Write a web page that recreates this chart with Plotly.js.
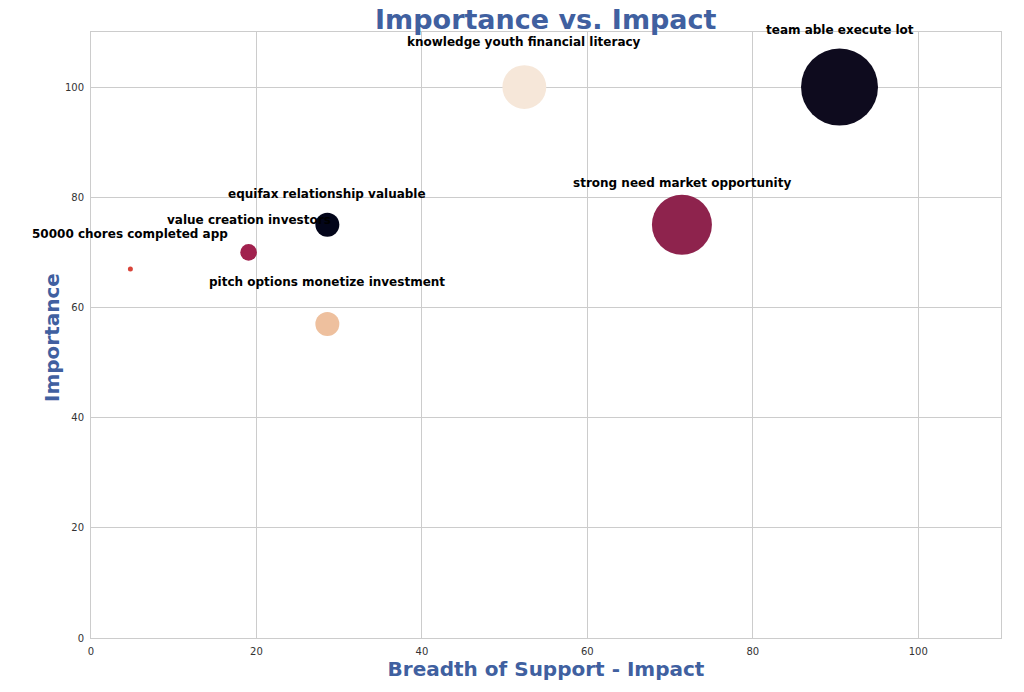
<!DOCTYPE html>
<html>
<head>
<meta charset="utf-8">
<script src="https://cdn.plot.ly/plotly-3.0.1.min.js"></script>
<style>html,body{margin:0;padding:0;background:#fff;}#chart{width:1024px;height:692px;}</style>
</head>
<body>
<div id="chart"></div>
<script>
const labels = ["50000 chores completed app", "value creation investors", "equifax relationship valuable", "pitch options monetize investment", "knowledge youth financial literacy", "strong need market opportunity", "team able execute lot"];
const impact = [4.76, 19.05, 28.57, 28.57, 52.38, 71.43, 90.48];
const importance = [67, 70, 75, 57, 100, 75, 100];
const weight = [1, 11, 23, 23, 77, 144, 237];
const colors = ["#d9443a", "#a1214e", "#03051a", "#eec09e", "#f6e7d9", "#8e234d", "#0e0b1e"];
const labelShift = [35, 32, 31, 42, 45, 42, 57];
const xTicks = [0, 20, 40, 60, 80, 100];
const yTicks = [0, 20, 40, 60, 80, 100];

const trace = {
  type: 'scatter', mode: 'markers',
  x: impact, y: importance,
  marker: {size: weight, sizemode: 'area', sizeref: 0.08, color: colors, opacity: 1, line: {width: 0}},
  hoverinfo: 'skip'
};
const blue = '#4060a0';
const annotations = labels.map((t, i) => ({
  x: impact[i], y: importance[i], xref: 'x', yref: 'y', text: t, showarrow: false,
  yshift: labelShift[i], xanchor: 'center', yanchor: 'middle',
  font: {family: 'DejaVu Sans', size: 12, color: '#000', weight: 'bold'}
}));
annotations.push({
  xref: 'paper', yref: 'paper', x: 0, y: 0.495, xshift: -39, textangle: -90,
  xanchor: 'center', yanchor: 'middle', showarrow: false,
  text: '<b>Importance</b>', font: {family: 'DejaVu Sans', size: 20, color: blue}
});
const layout = {
  width: 1024, height: 692,
  margin: {l: 91, r: 23, t: 32, b: 54},
  paper_bgcolor: '#fff', plot_bgcolor: '#fff',
  showlegend: false,
  font: {family: 'DejaVu Sans', color: '#333'},
  title: {text: '<b>Importance vs. Impact</b>', x: 0.533, xanchor: 'center', y: 0.972, yanchor: 'middle',
          font: {family: 'DejaVu Sans', size: 27, color: blue}},
  xaxis: {range: [0, 110], tickvals: xTicks, ticktext: xTicks.map(String), showgrid: true, gridcolor: '#cccccc', gridwidth: 1,
          zeroline: false, showline: true, linecolor: '#cccccc', mirror: true, ticks: '', ticklen: 0,
          ticklabelstandoff: 4,
          tickfont: {size: 10, color: '#333'},
          title: {text: '<b>Breadth of Support - Impact</b>', standoff: 4, font: {size: 20, color: blue}}},
  yaxis: {range: [0, 110], tickvals: yTicks, ticktext: yTicks.map(String), showgrid: true, gridcolor: '#cccccc', gridwidth: 1,
          zeroline: false, showline: true, linecolor: '#cccccc', mirror: true, ticks: '', ticklen: 0,
          ticklabelstandoff: 4,
          tickfont: {size: 10, color: '#333'}},
  annotations: annotations
};
Plotly.newPlot('chart', [trace], layout, {displayModeBar: false, staticPlot: true});
</script>
</body>
</html>
